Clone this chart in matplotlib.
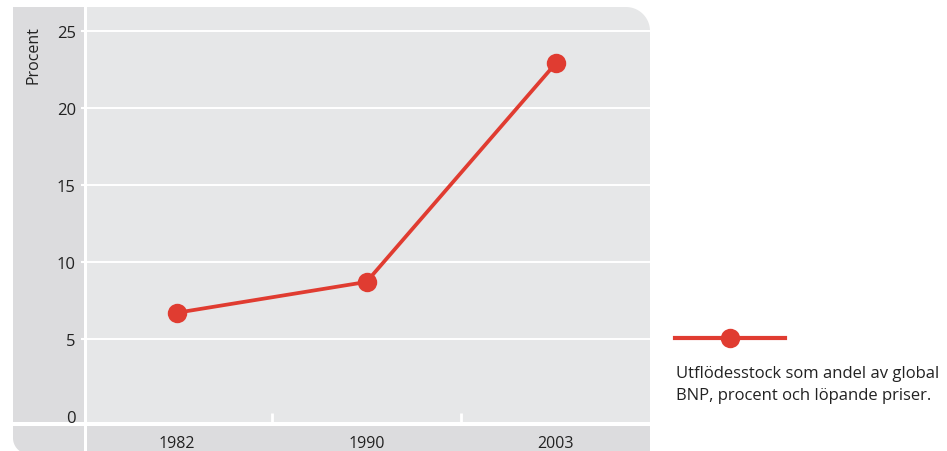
import numpy as np
import matplotlib
matplotlib.use("Agg")
import matplotlib.pyplot as plt
from matplotlib.patches import Polygon
from matplotlib.lines import Line2D

# data
YEARS = ["1982", "1990", "2003"]
SHARE = [6.7, 8.7, 22.9]          # outward FDI stock, % of world GDP
YTICKS = [0, 5, 10, 15, 20, 25]
YLABEL = "Procent"
LEGEND_TEXT = "Utflödesstock som andel av global\nBNP, procent och löpande priser."

W, H = 947, 452
RED = "#e03c31"
PANEL = "#e6e7e8"
STRIP = "#dcdcde"
TEXT = "#222222"

plt.rcParams.update({
    "font.family": ["Open Sans", "DejaVu Sans"],
    "font.size": 12,
})


def fx(x):
    return x / W


def fy(y):
    return 1 - y / H


def rounded_box(x0, y0, x1, y1, r_tr=0, r_bl=0):
    """Polygon (figure fraction) for a pixel box with optional round corners."""
    pts = [(x0, y0)]
    if r_tr:
        for a in np.linspace(90, 0, 20):
            pts.append((x1 - r_tr + r_tr * np.cos(np.radians(a)),
                        y0 + r_tr - r_tr * np.sin(np.radians(a))))
    else:
        pts.append((x1, y0))
    pts.append((x1, y1))
    if r_bl:
        for a in np.linspace(270, 180, 20):
            pts.append((x0 + r_bl + r_bl * np.cos(np.radians(a)),
                        y1 - r_bl - r_bl * np.sin(np.radians(a))))
    else:
        pts.append((x0, y1))
    return [(fx(px), fy(py)) for px, py in pts]


fig = plt.figure(figsize=(W / 100, H / 100), dpi=100)
fig.patch.set_facecolor("white")

# background panels
for verts, col in [
    (rounded_box(13, 8, 84, 423), STRIP),
    (rounded_box(87, 8, 650, 423, r_tr=24), PANEL),
    (rounded_box(13, 427, 84, 455, r_bl=16), STRIP),
    (rounded_box(87, 427, 650, 455), STRIP),
]:
    fig.patches.append(Polygon(verts, closed=True, transform=fig.transFigure,
                               facecolor=col, edgecolor="none", zorder=-5))

# main axes: x 87-650 px, y 8-423 px
ax = fig.add_axes([fx(87), fy(423), fx(650) - fx(87), fy(8) - fy(423)])
ax.set_zorder(2)
ax.patch.set_alpha(0)
for s in ax.spines.values():
    s.set_visible(False)

y0_px, y25_px = 417, 31.7
ppu = (y0_px - y25_px) / 25
ax.set_ylim(-(423 - y0_px) / ppu, (y0_px - 8) / ppu)
x0_px, unit_px = 177, 189.5
ax.set_xlim((87 - x0_px) / unit_px, (650 - x0_px) / unit_px)

ax.set_yticks(YTICKS)
ax.set_yticklabels([str(t) for t in YTICKS], color=TEXT, fontsize=12)
ax.tick_params(axis="y", length=4, width=1.5, color="white", pad=4)
ax.yaxis.get_major_ticks()[0].tick1line.set_visible(False)
for t in YTICKS[1:]:
    ax.axhline(t, color="white", lw=1.4, zorder=1, clip_on=False)

ax.set_xticks(range(len(YEARS)))
ax.set_xticklabels(YEARS, color=TEXT, fontsize=11.5)
ax.tick_params(axis="x", length=0, pad=9.5)
ax.set_xticks([0.5, 1.5], minor=True)
ax.tick_params(axis="x", which="minor", direction="in", length=6.5, width=2, color="white")

ax.plot(range(len(YEARS)), SHARE, color=RED, lw=2.7, marker="o", ms=14,
        markeredgewidth=0, zorder=3, clip_on=False)

fig.text(fx(33), fy(26), YLABEL, rotation=90, ha="center", va="top",
         color=TEXT, fontsize=11.5)

# legend (line + marker above a two-line caption)
fig.lines.append(Line2D([fx(675), fx(785)], [fy(339), fy(339)], transform=fig.transFigure,
                        color=RED, lw=3))
fig.lines.append(Line2D([fx(730)], [fy(339)], transform=fig.transFigure, color=RED,
                        marker="o", ms=14, markeredgewidth=0))
fig.text(fx(676), fy(366), LEGEND_TEXT, ha="left", va="top", color=TEXT,
         fontsize=12, linespacing=1.48)

fig.savefig("out.png", dpi=100)
